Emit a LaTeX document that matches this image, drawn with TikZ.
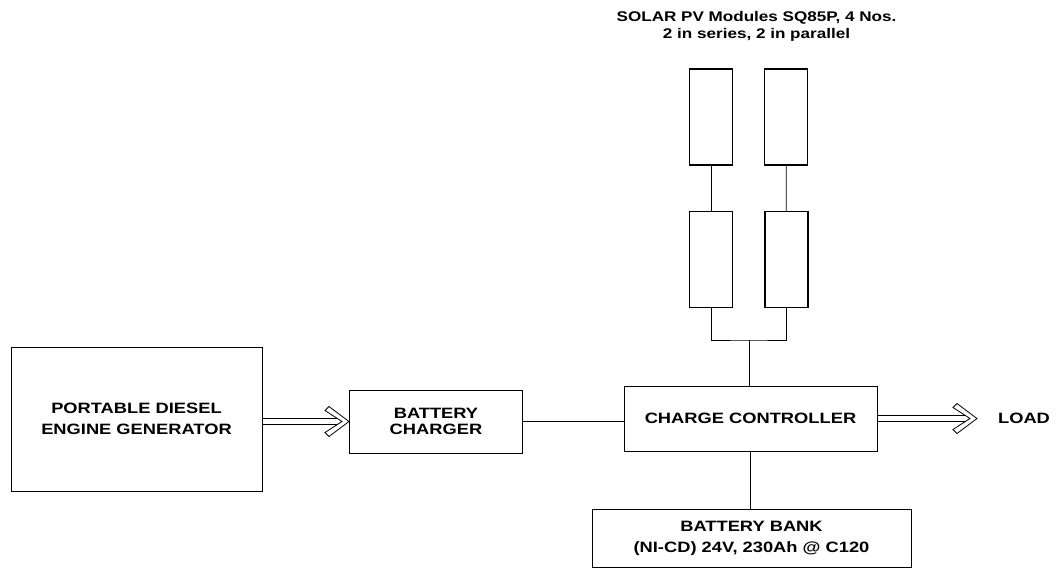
\documentclass[tikz,border=0pt]{standalone}
\usepackage{fontspec}
\setmainfont[FakeStretch=1.22]{Liberation Sans}
\usetikzlibrary{calc}
\begin{document}
\begin{tikzpicture}[x=1pt,y=-1pt,
  box/.style={draw,line width=1pt,rectangle,inner sep=0pt,align=center,font=\bfseries\fontsize{15}{21}\selectfont},
  mod/.style={draw,line width=1.1pt,rectangle,inner sep=0pt,minimum width=43pt,minimum height=96pt},
  wire/.style={line width=0.7pt},
  dbl/.style={line width=0.7pt,double,double distance=5.5pt},
  chev/.pic={\draw[fill=white,line width=0.8pt,line join=miter] (-20,-15) -- (0,0) -- (-20,15) -- (-24,11) -- (-7,0) -- (-24,-11) -- cycle;}]
\useasboundingbox (0,0) rectangle (1060,582);
\node[font=\bfseries\fontsize{14}{17}\selectfont,align=center] (title) at (756.5,26.5) {SOLAR PV Modules SQ85P, 4 Nos.\\2 in series, 2 in parallel};
\node[mod] (m1) at (711,117) {};
\node[mod] (m2) at (786,117) {};
\node[mod] (m3) at (711,259.5) {};
\node[mod] (m4) at (786.5,259.5) {};
\node[box,minimum width=251pt,minimum height=144pt] (gen) at (136.5,419) {PORTABLE DIESEL\\ENGINE GENERATOR};
\node[box,minimum width=173pt,minimum height=63pt,font=\bfseries\fontsize{15}{16}\selectfont] (ch) at (436,421.5) {BATTERY\\CHARGER};
\node[box,minimum width=253pt,minimum height=65pt] (cc) at (750.5,418.5) {CHARGE CONTROLLER};
\node[box,minimum width=319pt,minimum height=58pt] (bank) at (751.5,538) {BATTERY BANK\\(NI-CD) 24V, 230Ah @ C120};
\node[font=\bfseries\fontsize{15}{18}\selectfont] (load) at (1024,418.5) {LOAD};
\coordinate (j) at (749,340);
\coordinate (lt) at (977,418.5);
\coordinate (gs) at (gen.east |- ch.west);
% wiring
\draw[wire] (m1) -- (m3);
\draw[wire] (m2) -- (m4);
\draw[wire] (m3.south) |- (j) -| (m4.south);
\draw[wire] (j) -- (j |- cc.north);
\draw[wire] (cc.south) -- (cc.south |- bank.north);
\draw[wire] (ch.east) -- (cc.west |- ch.east);
% double arrows
\draw[dbl] (gs) -- ([xshift=-9]ch.west);
\pic at (ch.west) {chev};
\draw[dbl] (cc.east) -- ([xshift=-9]lt);
\pic at (lt) {chev};
\end{tikzpicture}
\end{document}
